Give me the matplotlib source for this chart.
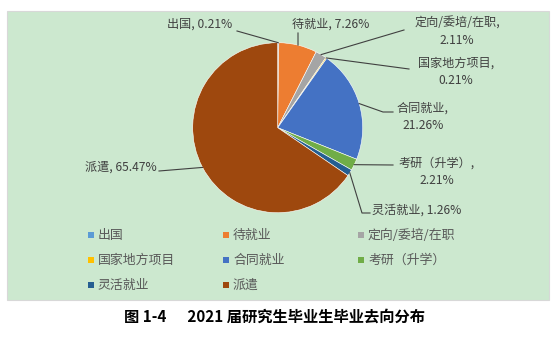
import numpy as np
import matplotlib
matplotlib.use("Agg")
import matplotlib.pyplot as plt
from matplotlib.patches import Rectangle

plt.rcParams['font.family'] = ['Noto Sans CJK SC', 'DejaVu Sans']

# data
categories = ['出国', '待就业', '定向/委培/在职', '国家地方项目',
              '合同就业', '考研（升学）', '灵活就业', '派遣']
shares = [0.21, 7.26, 2.11, 0.21, 21.26, 2.21, 1.26, 65.47]
colors = ['#5B9BD5', '#ED7D31', '#A5A5A5', '#FFC000',
          '#4472C4', '#70AD47', '#255E91', '#9E480E']
# label text layout: (text, x, y, leader elbow points) in pixel coords
label_layout = [
    ('{}, {:.2f}%', 200, 24, [(237, 31)]),
    ('{}, {:.2f}%', 331, 24, [(298, 33)]),
    ('{},\n{:.2f}%', 457, 32, [(404, 30)]),
    ('{},\n{:.2f}%', 456, 72, [(409, 69)]),
    ('{},\n{:.2f}%', 423, 117, [(393, 112), (383, 112)]),
    ('{},\n{:.2f}%', 437, 172, [(393, 165)]),
    ('{}, {:.2f}%', 417, 210, [(370, 213), (362, 213)]),
    ('{}, {:.2f}%', 121, 167, [(159, 171)]),
]

W, H = 553, 355
cx, cy, R = 277.7, 127.7, 85


def Y(y):
    return H - y


fig = plt.figure(figsize=(W / 100, H / 100), dpi=100)
ax = fig.add_axes([0, 0, 1, 1])

wedges, _ = ax.pie(shares, colors=colors, startangle=90, counterclock=False,
                   center=(cx, Y(cy)), radius=R,
                   wedgeprops=dict(edgecolor='white', linewidth=0.4))

ax.add_patch(Rectangle((6.5, Y(300)), 542, 289, facecolor='#CCE8CF',
                       edgecolor='#D8D8D8', linewidth=0.8, zorder=0))

# data labels with leader lines
for w, name, val, (fmt, tx, ty, elbow) in zip(wedges, categories, shares, label_layout):
    mid = np.deg2rad((w.theta1 + w.theta2) / 2)
    ex = cx + R * np.cos(mid)
    ey = Y(cy) + R * np.sin(mid)
    xs = [p[0] for p in elbow] + [ex]
    ys = [Y(p[1]) for p in elbow] + [ey]
    ax.plot(xs, ys, color='#404040', linewidth=0.8, zorder=3)
    ax.text(tx, Y(ty), fmt.format(name, val), ha='center', va='center',
            multialignment='center', fontsize=8.7, color='#404040',
            linespacing=1.45, zorder=4)

# legend, 3 columns row by row
for i, (name, c) in enumerate(zip(categories, colors)):
    row, col = divmod(i, 3)
    lx = 91 + 135 * col
    ly = 235 + 25 * row
    ax.scatter([lx], [Y(ly)], marker='s', s=22, color=c, linewidths=0, zorder=4)
    ax.text(lx + 7, Y(ly), name, ha='left', va='center', fontsize=9.3,
            color='#595959', zorder=4)

ax.text(274, Y(317), '图 1-4      2021 届研究生毕业生毕业去向分布',
        ha='center', va='center', fontsize=11, fontweight='bold', color='black')

ax.set_xlim(0, W)
ax.set_ylim(0, H)
ax.set_aspect('auto')
ax.axis('off')

fig.savefig('out.png', dpi=100, facecolor='white')
